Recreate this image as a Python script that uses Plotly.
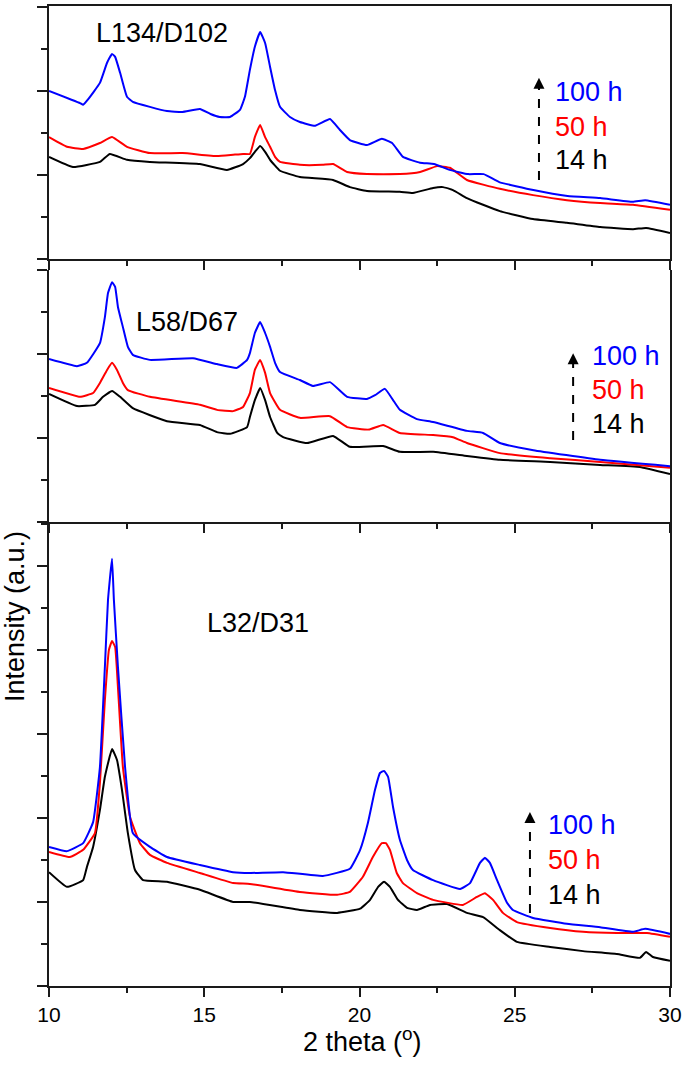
import plotly.graph_objects as go

# ---------------- data (2theta in degrees, intensity in a.u., panel-relative) -------------
x_range = [10, 30]
x_major = [10, 15, 20, 25, 30]
x_minor = [12.5, 17.5, 22.5, 27.5]
x_ticktext = ["10", "15", "20", "25", "30"]

series_names = ["14 h", "50 h", "100 h"]
series_colors = ["#000000", "#ff0000", "#0000ff"]

# Panel 1: L134/D102
p1_14h = [(10.0, 2.43), (10.77, 2.19), (11.64, 2.31), (11.96, 2.5), (12.51, 2.36), (13.25, 2.31),
          (14.86, 2.26), (15.73, 2.12), (16.25, 2.26), (16.47, 2.4), (16.63, 2.55), (16.8, 2.69),
          (16.96, 2.55), (17.12, 2.36), (17.44, 2.1), (18.08, 1.95), (19.15, 1.88), (19.69, 1.71),
          (20.24, 1.62), (21.3, 1.6), (21.72, 1.57), (22.37, 1.69), (22.69, 1.71), (23.01, 1.64),
          (23.46, 1.45), (23.98, 1.29), (24.52, 1.14), (25.59, 0.95), (26.68, 0.86), (27.75, 0.76),
          (28.81, 0.71), (29.23, 0.74), (30.0, 0.62)]
p1_50h = [(10.0, 2.9), (10.58, 2.67), (11.1, 2.62), (11.64, 2.76), (12.03, 2.9), (12.51, 2.67),
          (13.25, 2.52), (14.3, 2.52), (15.41, 2.45), (15.93, 2.48), (16.25, 2.5), (16.47, 2.5),
          (16.63, 2.9), (16.8, 3.19), (16.96, 2.9), (17.12, 2.67), (17.28, 2.43), (17.44, 2.31),
          (18.08, 2.24), (18.8, 2.24), (19.15, 2.26), (19.6, 2.07), (20.24, 2.02), (21.3, 2.02),
          (21.95, 2.07), (22.5, 2.21), (22.91, 2.17), (23.46, 1.88), (24.52, 1.67), (25.59, 1.52),
          (26.68, 1.4), (27.75, 1.33), (28.81, 1.29), (30.0, 1.17)]
p1_100h = [(10.0, 4.0), (11.0, 3.71), (11.1, 3.67), (11.25, 3.79), (11.64, 4.19), (11.87, 4.67),
           (12.03, 4.88), (12.13, 4.81), (12.29, 4.43), (12.51, 3.86), (12.7, 3.74), (13.25, 3.62),
           (13.8, 3.52), (14.3, 3.5), (14.86, 3.57), (15.2, 3.45), (15.5, 3.38), (15.83, 3.38),
           (16.15, 3.55), (16.31, 3.86), (16.47, 4.5), (16.63, 5.05), (16.8, 5.4), (16.96, 5.14),
           (17.12, 4.57), (17.28, 4.02), (17.44, 3.62), (17.76, 3.38), (18.08, 3.26), (18.57, 3.17),
           (19.05, 3.33), (19.37, 3.07), (19.69, 2.83), (20.24, 2.71), (20.72, 2.86), (21.05, 2.76),
           (21.4, 2.43), (21.95, 2.29), (22.4, 2.26), (22.9, 2.12), (23.5, 2.02), (24.0, 2.02),
           (24.5, 1.83), (25.6, 1.64), (26.7, 1.5), (27.75, 1.45), (28.8, 1.36), (29.2, 1.4), (30.0, 1.29)]

# Panel 2: L58/D67
p2_14h = [(10.0, 3.05), (10.9, 2.76), (11.48, 2.79), (11.74, 2.98), (12.03, 3.12), (12.29, 2.98),
          (12.7, 2.71), (13.8, 2.4), (14.86, 2.31), (15.41, 2.14), (15.83, 2.1), (16.38, 2.26),
          (16.47, 2.5), (16.63, 2.9), (16.8, 3.19), (16.96, 2.9), (17.12, 2.5), (17.35, 2.12),
          (17.54, 2.02), (18.31, 1.88), (19.15, 2.05), (19.69, 1.79), (20.76, 1.81), (21.3, 1.67),
          (22.37, 1.67), (23.46, 1.57), (24.52, 1.48), (26.14, 1.43), (27.75, 1.36), (29.03, 1.31),
          (30.0, 1.14)]
p2_50h = [(10.0, 3.19), (11.0, 2.98), (11.42, 3.07), (11.64, 3.31), (11.87, 3.62), (12.03, 3.79),
          (12.19, 3.62), (12.38, 3.31), (12.54, 3.14), (13.25, 2.98), (14.86, 2.79), (15.41, 2.67),
          (15.93, 2.64), (16.25, 2.74), (16.47, 3.07), (16.63, 3.62), (16.8, 3.86), (16.96, 3.55),
          (17.12, 3.07), (17.44, 2.67), (18.08, 2.48), (19.05, 2.52), (19.6, 2.26), (20.3, 2.2),
          (20.76, 2.31), (21.3, 2.12), (22.37, 2.07), (23.01, 2.02), (23.46, 1.88), (24.52, 1.64),
          (26.14, 1.52), (27.75, 1.43), (30.0, 1.29)]
p2_100h = [(10.0, 3.88), (10.9, 3.71), (11.22, 3.79), (11.64, 4.26), (11.8, 4.88), (11.9, 5.45),
           (12.03, 5.71), (12.13, 5.6), (12.22, 5.12), (12.38, 4.64), (12.54, 4.17), (12.7, 3.98),
           (13.25, 3.86), (14.64, 3.9), (15.41, 3.76), (16.05, 3.67), (16.38, 3.86), (16.47, 4.02),
           (16.63, 4.5), (16.8, 4.76), (16.96, 4.5), (17.12, 4.17), (17.28, 3.79), (17.44, 3.57),
           (18.08, 3.38), (18.5, 3.24), (19.05, 3.33), (19.6, 2.98), (20.24, 2.93), (20.5, 3.02),
           (20.82, 3.17), (21.1, 2.88), (21.3, 2.67), (21.85, 2.45), (22.37, 2.38), (23.46, 2.17),
           (23.98, 2.12), (24.52, 1.88), (25.6, 1.71), (27.75, 1.48), (30.0, 1.33)]

# Panel 3: L32/D31
p3_14h = [(10.0, 2.71), (10.58, 2.36), (11.1, 2.52), (11.22, 2.83), (11.42, 3.31), (11.64, 4.19),
          (11.8, 4.98), (12.03, 5.64), (12.19, 5.38), (12.35, 4.67), (12.54, 3.64), (12.77, 2.76),
          (13.03, 2.52), (13.8, 2.48), (14.86, 2.29), (15.93, 2.0), (16.47, 2.0), (18.08, 1.81),
          (19.28, 1.74), (20.02, 1.84), (20.34, 2.05), (20.6, 2.36), (20.79, 2.48), (20.98, 2.36),
          (21.24, 2.05), (21.53, 1.86), (21.85, 1.81), (22.27, 1.93), (22.82, 1.95), (23.46, 1.74),
          (23.98, 1.64), (24.52, 1.33), (25.07, 1.05), (26.14, 0.93), (27.2, 0.83), (28.29, 0.76),
          (29.03, 0.67), (29.23, 0.81), (29.45, 0.69), (30.0, 0.6)]
p3_50h = [(10.0, 3.19), (10.67, 3.07), (11.1, 3.24), (11.48, 3.64), (11.64, 4.83), (11.8, 6.81),
          (11.93, 8.0), (12.03, 8.21), (12.13, 8.07), (12.22, 7.12), (12.38, 5.21), (12.61, 4.02),
          (12.93, 3.4), (13.25, 3.12), (13.8, 2.93), (14.86, 2.69), (15.93, 2.45), (16.47, 2.43),
          (18.08, 2.24), (19.28, 2.17), (19.69, 2.24), (20.11, 2.6), (20.43, 3.07), (20.72, 3.4),
          (20.85, 3.4), (20.98, 3.24), (21.2, 2.69), (21.4, 2.45), (21.85, 2.21), (22.37, 2.05),
          (23.33, 1.93), (23.78, 2.12), (24.04, 2.21), (24.3, 2.05), (24.62, 1.74), (25.07, 1.52),
          (26.14, 1.38), (27.2, 1.29), (28.29, 1.26), (29.26, 1.26), (30.0, 1.17)]
p3_100h = [(10.0, 3.31), (10.58, 3.21), (11.1, 3.4), (11.42, 3.9), (11.64, 5.21), (11.8, 7.6),
           (11.9, 9.19), (12.03, 10.17), (12.09, 9.19), (12.22, 7.6), (12.45, 5.21), (12.7, 3.64),
           (13.25, 3.31), (13.8, 3.07), (14.86, 2.88), (15.93, 2.71), (16.47, 2.69), (17.54, 2.71),
           (18.82, 2.62), (19.69, 2.79), (20.02, 3.24), (20.27, 3.88), (20.5, 4.67), (20.66, 5.07),
           (20.79, 5.12), (20.92, 4.98), (21.08, 4.26), (21.3, 3.48), (21.53, 3.0), (21.72, 2.76),
           (22.37, 2.52), (23.24, 2.31), (23.56, 2.45), (23.88, 2.93), (24.04, 3.05), (24.2, 2.93),
           (24.43, 2.52), (24.75, 1.98), (24.94, 1.81), (25.59, 1.62), (26.68, 1.48), (27.75, 1.4),
           (28.81, 1.29), (29.2, 1.36), (30.0, 1.24)]

panel_labels = ["L134/D102", "L58/D67", "L32/D31"]
panel_yranges = [[0, 6.02], [0, 6.0], [0, 11.02]]
panel_ymajor = [[0, 2, 4, 6], [0, 2, 4, 6], [0, 2, 4, 6, 8, 10]]
panel_yminor = [[1, 3, 5], [1, 3, 5], [1, 3, 5, 7, 9, 11]]
panel_series = [[p1_14h, p1_50h, p1_100h], [p2_14h, p2_50h, p2_100h], [p3_14h, p3_50h, p3_100h]]

# annotation anchor positions (data coords)
label_pos = [(13.64, 5.38), (14.44, 4.76), (16.73, 8.64)]
arrow_x = [25.78, 26.88, 25.49]
arrow_y = [(1.88, 4.31), (1.95, 4.02), (1.74, 4.14)]
time_x = [26.23, 27.42, 26.0]
time_y = [(2.36, 3.14, 3.98), (2.33, 3.14, 3.95), (2.17, 3.0, 3.83)]

# ---------------- figure ----------------
W, H = 685, 1072
px_left, px_right = 49, 670
panel_px = [(6, 259), (270, 522), (523, 986)]   # (top, bottom) pixel rows

FONT = "Liberation Sans, Arial, sans-serif"
AX = "#1a1a1a"

fig = go.Figure()
layout = dict(width=W, height=H, margin=dict(l=0, r=0, t=0, b=0, pad=0),
              paper_bgcolor="white", plot_bgcolor="white", showlegend=False,
              font=dict(family=FONT, color="black"))

xdom = [px_left / W, px_right / W]
annotations = []
shapes = []
for i in range(3):
    sfx = "" if i == 0 else str(i + 1)
    xa, ya = "xaxis" + sfx, "yaxis" + sfx
    xr, yr = "x" + sfx, "y" + sfx
    top, bot = panel_px[i]
    ydom = [(H - bot) / H, (H - top) / H]
    layout[xa] = dict(domain=xdom, range=x_range, anchor=yr, showline=True, linecolor=AX,
                      linewidth=2, mirror=(i == 0), ticks="outside", ticklen=9, tickwidth=2,
                      tickcolor=AX, tickvals=x_major, ticktext=x_ticktext, automargin=False,
                      showticklabels=(i == 2), tickfont=dict(size=21, family=FONT, color="black"),
                      minor=dict(tickvals=x_minor, ticklen=5, tickwidth=2, tickcolor=AX, ticks="outside"),
                      showgrid=False, zeroline=False)
    if i > 0:
        layout[xa]["matches"] = "x"
    layout[ya] = dict(domain=ydom, range=panel_yranges[i], anchor=xr, showline=True, linecolor=AX,
                      linewidth=2, mirror=True, ticks="outside", ticklen=10, tickwidth=2,
                      tickcolor=AX, tickvals=panel_ymajor[i], showticklabels=False, automargin=False,
                      minor=dict(tickvals=panel_yminor[i], ticklen=6, tickwidth=2, tickcolor=AX, ticks="outside"),
                      showgrid=False, zeroline=False)
    for name, color, ser in zip(series_names, series_colors, panel_series[i]):
        fig.add_trace(go.Scatter(x=[p[0] for p in ser], y=[p[1] for p in ser], mode="lines",
                                 name=name, line=dict(color=color, width=2, shape="spline", smoothing=0.35),
                                 xaxis=xr, yaxis=yr, hoverinfo="skip"))
    # panel label
    annotations.append(dict(x=label_pos[i][0], y=label_pos[i][1], xref=xr, yref=yr,
                            xanchor="center", yanchor="middle",
                            text=panel_labels[i], showarrow=False,
                            font=dict(size=27, family=FONT, color="black")))
    # dashed arrow
    shapes.append(dict(type="line", xref=xr, yref=yr, x0=arrow_x[i], x1=arrow_x[i],
                       y0=arrow_y[i][0], y1=arrow_y[i][1] - 0.2,
                       line=dict(color="black", width=2, dash="dash")))
    annotations.append(dict(x=arrow_x[i], y=arrow_y[i][1], xref=xr, yref=yr, ax=0, ay=12,
                            axref="pixel", ayref="pixel", text="", showarrow=True,
                            arrowhead=2, arrowsize=1.1, arrowwidth=2, arrowcolor="black"))
    for t, yv, color in zip(series_names, time_y[i], series_colors):
        annotations.append(dict(x=time_x[i], y=yv, xref=xr, yref=yr, text=t, showarrow=False,
                                xanchor="left", yanchor="middle",
                                font=dict(size=27, family=FONT, color=color)))

# axis titles
annotations.append(dict(x=15 / W, y=(H - 617) / H, xref="paper", yref="paper",
                        xanchor="center", yanchor="middle",
                        text="Intensity (a.u.)", textangle=-90, showarrow=False,
                        font=dict(size=27, family=FONT, color="black")))
annotations.append(dict(x=362 / W, y=(H - 1040) / H, xref="paper", yref="paper",
                        xanchor="center", yanchor="middle",
                        text="2 theta (<sup>o</sup>)", showarrow=False,
                        font=dict(size=27, family=FONT, color="black")))

layout["annotations"] = annotations
layout["shapes"] = shapes
fig.update_layout(**layout)
fig.write_html("out.html", config={"displayModeBar": False, "staticPlot": True},
               post_script="document.body.style.margin='0';document.body.style.overflow='hidden';")
